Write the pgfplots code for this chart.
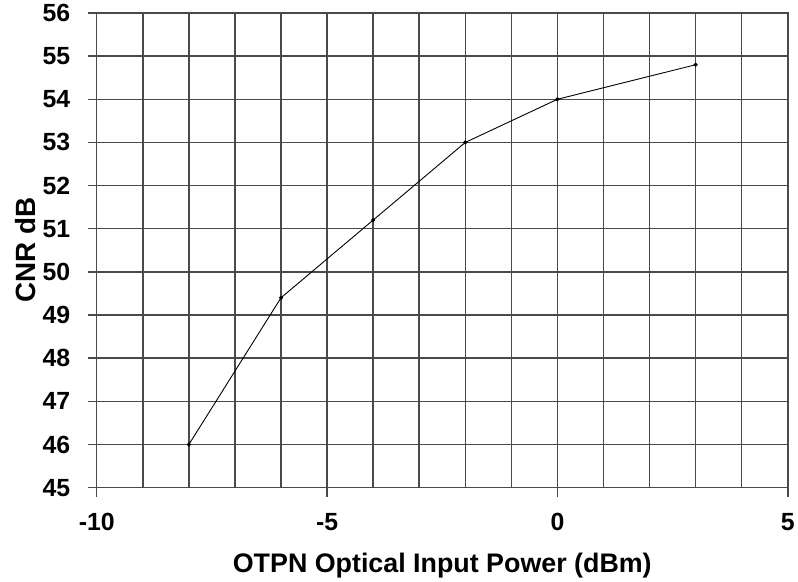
\documentclass[border=0pt]{standalone}
\usepackage{fontspec}
\setmainfont{Liberation Sans}
\usepackage{pgfplots}
\pgfplotsset{compat=1.18}
\definecolor{gridgray}{HTML}{4A4A4A}
\begin{document}
\begin{tikzpicture}
    \begin{axis}[
        scale only axis,
        width=693bp,
        height=476bp,
        xmin=-10, xmax=5,
        ymin=45, ymax=56,
        xtick={-10,-5,0,5},
        minor xtick={-9,-8,-7,-6,-4,-3,-2,-1,1,2,3,4},
        ytick={45,46,...,56},
        grid=both,
        major grid style={gridgray, line width=1.5bp},
        minor grid style={gridgray, line width=1.5bp},
        axis line style={gridgray, line width=1.5bp},
        tick style={gridgray, line width=1.5bp},
        tick align=outside,
        major tick length=9bp,
        minor tick length=0pt,
        xtick pos=bottom,
        ytick pos=left,
        /pgf/number format/assume math mode=true,
        ticklabel style={font=\bfseries\fontsize{25}{27}\selectfont},
        xticklabel style={yshift=-13bp},
        yticklabel style={xshift=-14bp},
        xlabel={OTPN Optical Input Power (dBm)},
        ylabel={CNR dB},
        xlabel style={font=\bfseries\fontsize{27}{30}\selectfont, yshift=-16bp},
        ylabel style={font=\bfseries\fontsize{28}{30}\selectfont, yshift=0bp},
    ]
\addplot[black, line width=0.9bp, mark=*, mark size=1.6bp] coordinates {
        (-8,46)
        (-6,49.4)
        (-4,51.2)
        (-2,53)
        (0,54)
        (3,54.8)
};
    \end{axis}
    \path[use as bounding box] (-97bp,-87bp) rectangle (701bp,489bp);
\end{tikzpicture}
\end{document}
